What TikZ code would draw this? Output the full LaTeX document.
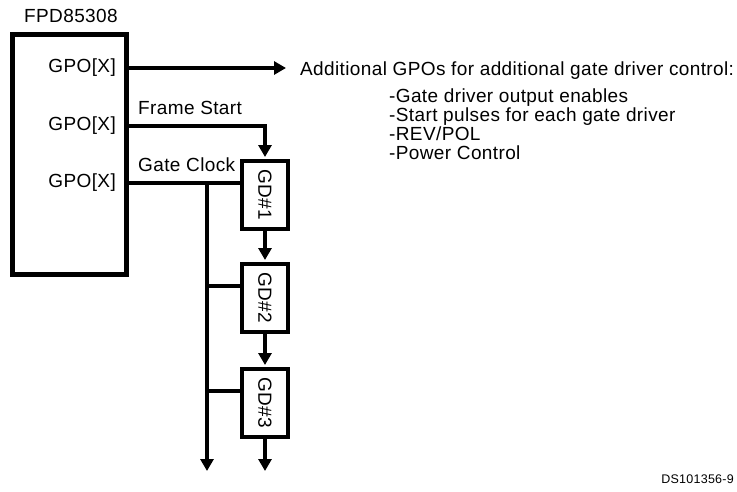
\documentclass[tikz,border=0pt]{standalone}
\usepackage{fontspec}
\setmainfont[LetterSpace=2]{Liberation Sans}
\usetikzlibrary{arrows.meta}

\begin{document}
\begin{tikzpicture}[x=1pt,y=1pt,>={Triangle[length=12pt,width=13pt]},
  font=\fontsize{19}{22}\selectfont,every node/.style={inner sep=0pt},
  wire/.style={line width=3.2pt},
  box/.style={draw,line width=4.5pt}]
  \useasboundingbox (0,0) rectangle (737,-491);
  % controller and its outputs
  \node[box,minimum width=114,minimum height=240] (chip) at (69.5,-154.5) {};
  \node[anchor=base west] (chipname) at (24,-22) {FPD85308};
  \foreach \i/\y in {1/68,2/126,3/183}{
    \coordinate (pin\i) at (126.5,-\y);
    \node[anchor=east] (gpo\i) at (116,-\y) {GPO[X]};
  }
  % gate drivers
  \foreach \i/\y in {1/195,2/298,3/403}{
    \node[box,line width=4pt,minimum width=46,minimum height=68] (gd\i) at (265,-\y) {\rotatebox{-90}{GD\#\i}};
    \path ([yshift=12]gd\i.west) coordinate (clk\i);
  }
  \coordinate (notes) at (286,-68);
  \coordinate (tap) at (207,-183);
  \coordinate (clkend) at (207,-471);
  \coordinate (gdend) at (265,-471);
  \draw[wire,->] (pin1) -- (notes);
  \draw[wire,->,shorten >=2pt] (pin2) -| (gd1.north);
  \draw[wire] (pin3) -- (clk1);
  \draw[wire,->] (tap) -- (clkend);
  \foreach \i in {2,3}
    \draw[wire] (clk\i -| tap) -- (clk\i);
  \draw[wire,->,shorten >=2pt] (gd1.south) -- (gd2.north);
  \draw[wire,->,shorten >=2pt] (gd2.south) -- (gd3.north);
  \draw[wire,->] (gd3.south) -- (gdend);
  \node[anchor=base west] (fslabel) at (138,-114) {Frame Start};
  \node[anchor=base west] (gclabel) at (138,-171) {Gate Clock};
  % notes on the extra outputs
  \node[anchor=base west] (notehead) at (300,-75) {Additional GPOs for additional gate driver control:};
  \foreach \j/\y/\t in {1/102/{-Gate driver output enables},2/121/{-Start pulses for each gate driver},
      3/140/{-REV/POL},4/159/{-Power Control}}
    \node[anchor=base west] (note\j) at (389,-\y) {\t};
  \node[anchor=base east,font=\fontsize{12.5}{14}\selectfont] (dsnum) at (734,-483) {DS101356-9};
\end{tikzpicture}
\end{document}
